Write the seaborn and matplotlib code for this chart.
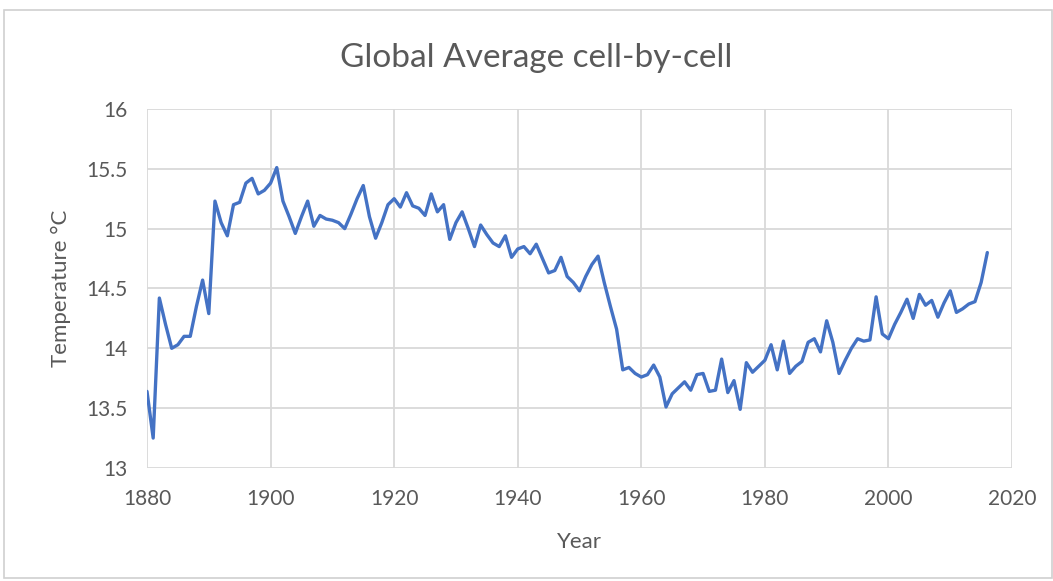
import numpy as np
import pandas as pd
import matplotlib
matplotlib.use('Agg')
import matplotlib.pyplot as plt
import seaborn as sns
from matplotlib.patches import Rectangle

# annual values
years = list(range(1880, 2017))
temps = [
    13.64, 13.25, 14.42, 14.20, 14.00, 14.03, 14.10, 14.10, 14.35, 14.57,  # 1880s
    14.29, 15.23, 15.05, 14.94, 15.20, 15.22, 15.38, 15.42, 15.29, 15.32,  # 1890s
    15.38, 15.51, 15.23, 15.10, 14.96, 15.10, 15.23, 15.02, 15.11, 15.08,  # 1900s
    15.07, 15.05, 15.00, 15.12, 15.25, 15.36, 15.10, 14.92, 15.05, 15.20,  # 1910s
    15.25, 15.18, 15.30, 15.19, 15.17, 15.11, 15.29, 15.14, 15.20, 14.91,  # 1920s
    15.05, 15.14, 15.00, 14.85, 15.03, 14.95, 14.88, 14.85, 14.94, 14.76,  # 1930s
    14.83, 14.85, 14.79, 14.87, 14.75, 14.63, 14.65, 14.76, 14.60, 14.55,  # 1940s
    14.48, 14.60, 14.70, 14.77, 14.55, 14.35, 14.16, 13.82, 13.84, 13.79,  # 1950s
    13.76, 13.78, 13.86, 13.76, 13.51, 13.62, 13.67, 13.72, 13.65, 13.78,  # 1960s
    13.79, 13.64, 13.65, 13.91, 13.63, 13.73, 13.49, 13.88, 13.80, 13.85,  # 1970s
    13.90, 14.03, 13.82, 14.06, 13.79, 13.85, 13.89, 14.05, 14.08, 13.97,  # 1980s
    14.23, 14.05, 13.79, 13.90, 14.00, 14.08, 14.06, 14.07, 14.43, 14.12,  # 1990s
    14.08, 14.20, 14.30, 14.41, 14.25, 14.45, 14.36, 14.40, 14.26, 14.38,  # 2000s
    14.48, 14.30, 14.33, 14.37, 14.39, 14.55, 14.80,                       # 2010s
]
x_ticks = [1880, 1900, 1920, 1940, 1960, 1980, 2000, 2020]
y_ticks = [13, 13.5, 14, 14.5, 15, 15.5, 16]
y_tick_labels = ['13', '13.5', '14', '14.5', '15', '15.5', '16']

df = pd.DataFrame({'Year': years, 'Temp': temps})

sns.set_style('white')
plt.rcParams['font.family'] = ['Lato', 'DejaVu Sans']

text_col = '#595959'
grid_col = '#D9D9D9'

fig = plt.figure(figsize=(10.53, 5.81), dpi=100)
ax = fig.add_axes([0.1396, 0.1945, 0.8215, 0.618])

# chart area border
fig.patches.append(Rectangle((0.004, 0.005), 0.995, 0.978, transform=fig.transFigure,
                             fill=False, edgecolor='#D0D0D0', linewidth=1.2))

sns.lineplot(data=df, x='Year', y='Temp', ax=ax, color='#4472C4', linewidth=2.4)
ax.lines[0].set_solid_joinstyle('round')
ax.lines[0].set_solid_capstyle('round')

ax.set_xlim(1880, 2020)
ax.set_ylim(13, 16)
ax.set_xticks(x_ticks)
ax.set_yticks(y_ticks)
ax.set_yticklabels(y_tick_labels)
ax.grid(True, color=grid_col, linewidth=1.3)
ax.set_axisbelow(True)
for s in ax.spines.values():
    s.set_visible(False)
ax.tick_params(axis='both', length=0, labelsize=15, colors=text_col)
ax.tick_params(axis='x', pad=15)
ax.tick_params(axis='y', pad=14)

ax.set_xlabel('Year', fontsize=16, color=text_col, labelpad=17)
ax.set_ylabel('Temperature °C', fontsize=16, color=text_col, labelpad=11)
fig.text(0.5095, 0.900, 'Global Average cell-by-cell', ha='center', va='center',
         fontsize=24, color=text_col)

fig.savefig('out.png', dpi=100)
